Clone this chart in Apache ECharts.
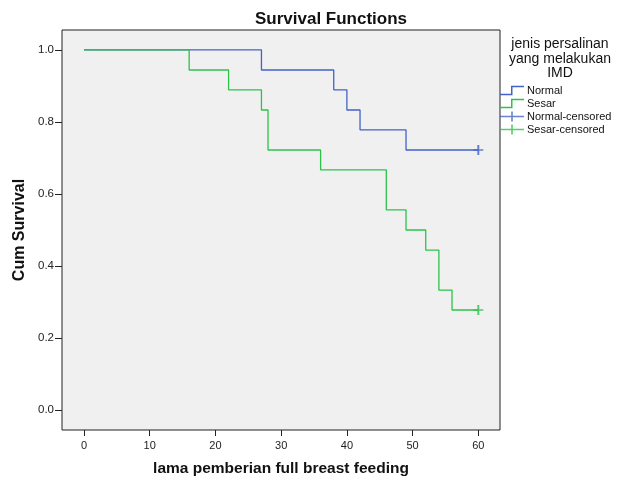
<!DOCTYPE html>
<html>
<head>
<meta charset="utf-8">
<script src="https://cdn.jsdelivr.net/npm/echarts@6/dist/echarts.min.js"></script>
<style>
  html, body { margin: 0; padding: 0; background: #fff; }
  #chart { width: 627px; height: 477px; }
</style>
</head>
<body>
<div id="chart"></div>
<script>
// kurva survival per kelompok (waktu, proporsi survival)
const normalTimes = [0, 27, 38, 40, 42, 49, 60]
const normalSurv = [1, 0.944, 0.889, 0.833, 0.778, 0.722, 0.722]
const sesarTimes = [0, 16, 22, 27, 28, 36, 46, 49, 52, 54, 56, 60]
const sesarSurv = [1, 0.944, 0.889, 0.833, 0.722, 0.667, 0.556, 0.5, 0.444, 0.333, 0.278, 0.278]
// titik tersensor
const normalCensorTimes = [60]
const normalCensorSurv = [0.722]
const sesarCensorTimes = [60]
const sesarCensorSurv = [0.278]

const xTicks = [0, 10, 20, 30, 40, 50, 60]
const yTicks = [0, 0.2, 0.4, 0.6, 0.8, 1.0]

const blue = '#4462c6'
const green = '#2cc24a'
const font = 'Liberation Sans, Arial, sans-serif'

const zip = (xs, ys) => xs.map((x, i) => [x, ys[i]])

const stepIcon = 'path://M0,9h11v-8h13v1.5h-11.5v8h-12.5z'
const plusIcon = 'path://M0,4.2h24v1.6h-24z M11.2,0h1.6v10h-1.6z'
const plusMark = 'path://M0,4.2h10v1.6h-10z M4,0h2v10h-2z'

const chart = echarts.init(document.getElementById('chart'))
chart.setOption({
  animation: false,
  textStyle: { fontFamily: font },
  title: [
    {
      text: 'Survival Functions',
      left: 326,
      top: 6,
      textAlign: 'center',
      textStyle: { fontFamily: font, fontSize: 17, fontWeight: 'bold', color: '#111' }
    },
    {
      text: 'jenis persalinan\nyang melakukan\nIMD',
      left: 555,
      top: 32,
      textAlign: 'center',
      textStyle: { fontFamily: font, fontSize: 14, fontWeight: 'normal', color: '#111', lineHeight: 14.5 }
    }
  ],
  legend: {
    orient: 'vertical',
    left: 500,
    top: 85,
    padding: 0,
    itemWidth: 24,
    itemHeight: 10,
    itemGap: 2,
    textStyle: { fontFamily: font, fontSize: 11, color: '#111', lineHeight: 10, padding: [0, 0, 0, -2] },
    data: [
      { name: 'Normal', icon: stepIcon },
      { name: 'Sesar', icon: stepIcon },
      { name: 'Normal-censored', icon: plusIcon },
      { name: 'Sesar-censored', icon: plusIcon }
    ]
  },
  grid: {
    left: 62,
    right: 127,
    top: 30,
    bottom: 47,
    containLabel: false,
    outerBoundsMode: 'none',
    show: true,
    backgroundColor: '#f0f0f0',
    borderColor: '#222',
    borderWidth: 1
  },
  xAxis: {
    type: 'value',
    min: -3.35,
    max: 63.3,
    name: 'lama pemberian full breast feeding',
    nameLocation: 'middle',
    nameGap: 31,
    nameTextStyle: { fontFamily: font, fontSize: 15.5, fontWeight: 'bold', color: '#111' },
    axisLine: { show: false, onZero: false },
    splitLine: { show: false },
    axisTick: { show: true, length: 6, customValues: xTicks, lineStyle: { color: '#222' } },
    axisLabel: { customValues: xTicks, margin: 10, fontSize: 11, color: '#222', fontFamily: font }
  },
  yAxis: {
    type: 'value',
    min: -0.055,
    max: 1.055,
    name: 'Cum Survival',
    nameLocation: 'middle',
    nameGap: 33,
    nameTextStyle: { fontFamily: font, fontSize: 16, fontWeight: 'bold', color: '#111' },
    axisLine: { show: false, onZero: false },
    splitLine: { show: false },
    axisTick: { show: true, length: 7, customValues: yTicks, lineStyle: { color: '#222' } },
    axisLabel: {
      customValues: yTicks,
      margin: 8,
      fontSize: 11.5,
      color: '#222',
      fontFamily: font,
      formatter: v => v.toFixed(1)
    }
  },
  series: [
    {
      name: 'Normal',
      type: 'line',
      step: 'end',
      symbol: 'none',
      color: blue,
      lineStyle: { width: 1.3, color: blue },
      z: 2,
      data: zip(normalTimes, normalSurv)
    },
    {
      name: 'Sesar',
      type: 'line',
      step: 'end',
      symbol: 'none',
      color: green,
      lineStyle: { width: 1.3, color: green },
      z: 3,
      data: zip(sesarTimes, sesarSurv)
    },
    {
      name: 'Normal-censored',
      type: 'scatter',
      symbol: plusMark,
      symbolSize: 10,
      color: blue,
      data: zip(normalCensorTimes, normalCensorSurv)
    },
    {
      name: 'Sesar-censored',
      type: 'scatter',
      symbol: plusMark,
      symbolSize: 10,
      color: green,
      data: zip(sesarCensorTimes, sesarCensorSurv)
    }
  ]
})
</script>
</body>
</html>
